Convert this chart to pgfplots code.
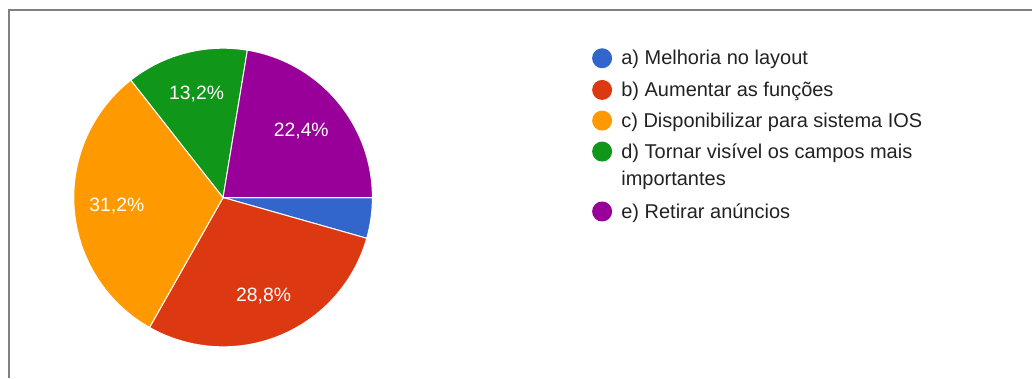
\documentclass[border=0pt]{standalone}
\usepackage{pgfplots}
\pgfplotsset{compat=1.18}
\usepackage{pgfplotstable}
\usepackage{fontspec}
\setmainfont{Liberation Sans}
\definecolor{ca}{HTML}{3366CC}
\definecolor{cb}{HTML}{DC3912}
\definecolor{cc}{HTML}{FF9900}
\definecolor{cd}{HTML}{109618}
\definecolor{ce}{HTML}{990099}
\definecolor{txt}{HTML}{222222}
\definecolor{frame}{HTML}{808080}
\pgfplotstableread{
label pct
a 4.4
b 28.8
c 31.2
d 13.2
e 22.4
}\piedata
\begin{document}
\begin{tikzpicture}
\pgfplotstablegetelem{0}{pct}\of\piedata\edef\pA{\pgfplotsretval}
\pgfplotstablegetelem{1}{pct}\of\piedata\edef\pB{\pgfplotsretval}
\pgfplotstablegetelem{2}{pct}\of\piedata\edef\pC{\pgfplotsretval}
\pgfplotstablegetelem{3}{pct}\of\piedata\edef\pD{\pgfplotsretval}
\pgfplotstablegetelem{4}{pct}\of\piedata\edef\pE{\pgfplotsretval}
\pgfmathsetmacro\tA{0}
\pgfmathsetmacro\tB{\tA-3.6*\pA}
\pgfmathsetmacro\tC{\tB-3.6*\pB}
\pgfmathsetmacro\tD{\tC-3.6*\pC}
\pgfmathsetmacro\tE{\tD-3.6*\pD}
\pgfmathsetmacro\tF{\tE-3.6*\pE}
\pgfmathsetmacro\mB{(\tB+\tC)/2}
\pgfmathsetmacro\mC{(\tC+\tD)/2}
\pgfmathsetmacro\mD{(\tD+\tE)/2}
\pgfmathsetmacro\mE{(\tE+\tF)/2}
\def\R{112.1pt}
\def\cx{223.3}
\def\cy{180.3}
\begin{axis}[x=0.75pt,y=0.75pt,xmin=0,xmax=1033,ymin=0,ymax=378,
  hide axis,scale only axis,clip=false]
\addplot[draw=none] coordinates {(0,0) (1033,378)};
\path (axis cs:0,0) rectangle (axis cs:1033,378);
\draw[frame,line width=1.5pt] (axis cs:9.5,0) -- (axis cs:9.5,367.5) -- (axis cs:1033,367.5);
\filldraw[fill=ca,draw=white,line width=0.75pt] (axis cs:\cx,\cy) -- ++(\tA:\R) arc[start angle=\tA,end angle=\tB,radius=\R] -- cycle;
\filldraw[fill=cb,draw=white,line width=0.75pt] (axis cs:\cx,\cy) -- ++(\tB:\R) arc[start angle=\tB,end angle=\tC,radius=\R] -- cycle;
\filldraw[fill=cc,draw=white,line width=0.75pt] (axis cs:\cx,\cy) -- ++(\tC:\R) arc[start angle=\tC,end angle=\tD,radius=\R] -- cycle;
\filldraw[fill=cd,draw=white,line width=0.75pt] (axis cs:\cx,\cy) -- ++(\tD:\R) arc[start angle=\tD,end angle=\tE,radius=\R] -- cycle;
\filldraw[fill=ce,draw=white,line width=0.75pt] (axis cs:\cx,\cy) -- ++(\tE:\R) arc[start angle=\tE,end angle=\tF,radius=\R] -- cycle;
\path (axis cs:\cx,\cy) ++(\mB:80pt) node[text=white,font=\fontsize{14.5}{17}\selectfont] {28,8\%};
\path (axis cs:\cx,\cy) ++(\mC:80pt) node[text=white,font=\fontsize{14.5}{17}\selectfont] {31,2\%};
\path (axis cs:\cx,\cy) ++(\mD:80pt) node[text=white,font=\fontsize{14.5}{17}\selectfont] {13,2\%};
\path (axis cs:\cx,\cy) ++(\mE:77pt) node[text=white,font=\fontsize{14.5}{17}\selectfont] {22,4\%};
\fill[ca] (axis cs:602.7,{378-58.3}) circle[radius=7.5pt];
\fill[cb] (axis cs:602.7,{378-90}) circle[radius=7.5pt];
\fill[cc] (axis cs:602.7,{378-120.7}) circle[radius=7.5pt];
\fill[cd] (axis cs:602.7,{378-151.7}) circle[radius=7.5pt];
\fill[ce] (axis cs:602.7,{378-211.7}) circle[radius=7.5pt];
\node[anchor=base west,inner sep=0pt,text=txt,font=\fontsize{15}{17}\selectfont] at (axis cs:621.7,{378-65}) {a) Melhoria no layout};
\node[anchor=base west,inner sep=0pt,text=txt,font=\fontsize{15}{17}\selectfont] at (axis cs:621.7,{378-96.7}) {b) Aumentar as funções};
\node[anchor=base west,inner sep=0pt,text=txt,font=\fontsize{15}{17}\selectfont] at (axis cs:621.7,{378-127.4}) {c) Disponibilizar para sistema IOS};
\node[anchor=base west,inner sep=0pt,text=txt,font=\fontsize{15}{17}\selectfont] at (axis cs:621.7,{378-158.4}) {d) Tornar visível os campos mais};
\node[anchor=base west,inner sep=0pt,text=txt,font=\fontsize{15}{17}\selectfont] at (axis cs:621.7,{378-186}) {importantes};
\node[anchor=base west,inner sep=0pt,text=txt,font=\fontsize{15}{17}\selectfont] at (axis cs:621.7,{378-218.4}) {e) Retirar anúncios};
\end{axis}
\end{tikzpicture}
\end{document}
